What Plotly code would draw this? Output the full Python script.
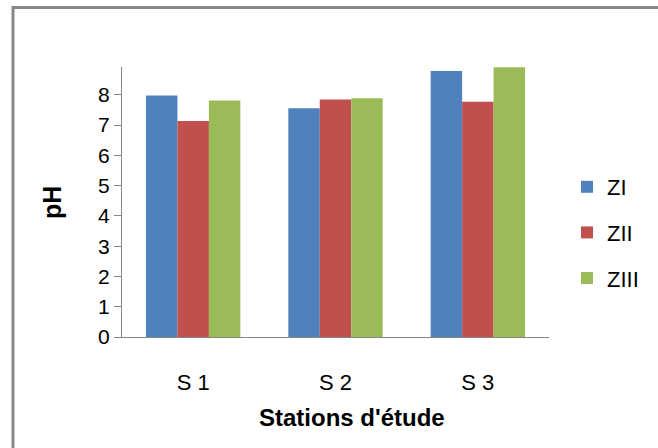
import plotly.graph_objects as go

stations = ["S 1", "S 2", "S 3"]
series_names = ["ZI", "ZII", "ZIII"]
zi = [7.98, 7.56, 8.79]
zii = [7.14, 7.85, 7.77]
ziii = [7.81, 7.89, 8.91]
colors = ["#4F81BD", "#C0504D", "#9BBB59"]
y_ticks = [0, 1, 2, 3, 4, 5, 6, 7, 8]

W, H = 658, 448
L, R, T, B = 122, 109, 67, 111
pw, ph = W - L - R, H - T - B

def px_x(p):
    return (p - L) / pw

def px_y(p):
    return (H - B - p) / ph

fig = go.Figure()
for name, vals, col in zip(series_names, [zi, zii, ziii], colors):
    fig.add_trace(go.Bar(x=stations, y=vals, name=name, marker_color=col,
                         marker_line_width=0, legendgroup=name))

font = "Liberation Sans, Arial, sans-serif"
fig.update_layout(
    width=W, height=H,
    margin=dict(l=L, r=R, t=T, b=B, pad=0),
    paper_bgcolor="white", plot_bgcolor="white",
    bargap=0.337, bargroupgap=0,
    font=dict(family=font, color="#000000", size=21),
    showlegend=True,
    legend=dict(x=px_x(567), y=px_y(166), xanchor="left", yanchor="top",
                font=dict(size=22, family=font), tracegroupgap=14,
                bgcolor="rgba(0,0,0,0)"),
    xaxis=dict(showline=True, linecolor="#868686", linewidth=1,
               ticks="", showgrid=False, ticklabelstandoff=26,
               tickfont=dict(size=22)),
    yaxis=dict(range=[0, 8.92], tickvals=y_ticks, showline=True,
               linecolor="#868686", linewidth=1, ticks="outside",
               ticklen=7, tickcolor="#868686", showgrid=False,
               zeroline=False, tickfont=dict(size=21)),
    annotations=[
        dict(text="<b>Stations d'étude</b>", xref="paper", yref="paper",
             x=px_x(352), y=px_y(417), xanchor="center", yanchor="middle",
             showarrow=False, font=dict(size=24, family=font)),
        dict(text="<b>pH</b>", xref="paper", yref="paper",
             x=px_x(52), y=px_y(203), xanchor="center", yanchor="middle",
             textangle=-90, showarrow=False, font=dict(size=25, family=font)),
    ],
    shapes=[
        dict(type="rect", xref="paper", yref="paper",
             x0=px_x(13), x1=px_x(680), y0=px_y(470), y1=px_y(7.5),
             line=dict(color="#878787", width=3), fillcolor="rgba(0,0,0,0)",
             layer="above"),
    ],
)

fig.write_html("out.html", config={"displayModeBar": False},
               post_script="document.body.style.margin='0px';document.body.style.overflow='hidden';")
